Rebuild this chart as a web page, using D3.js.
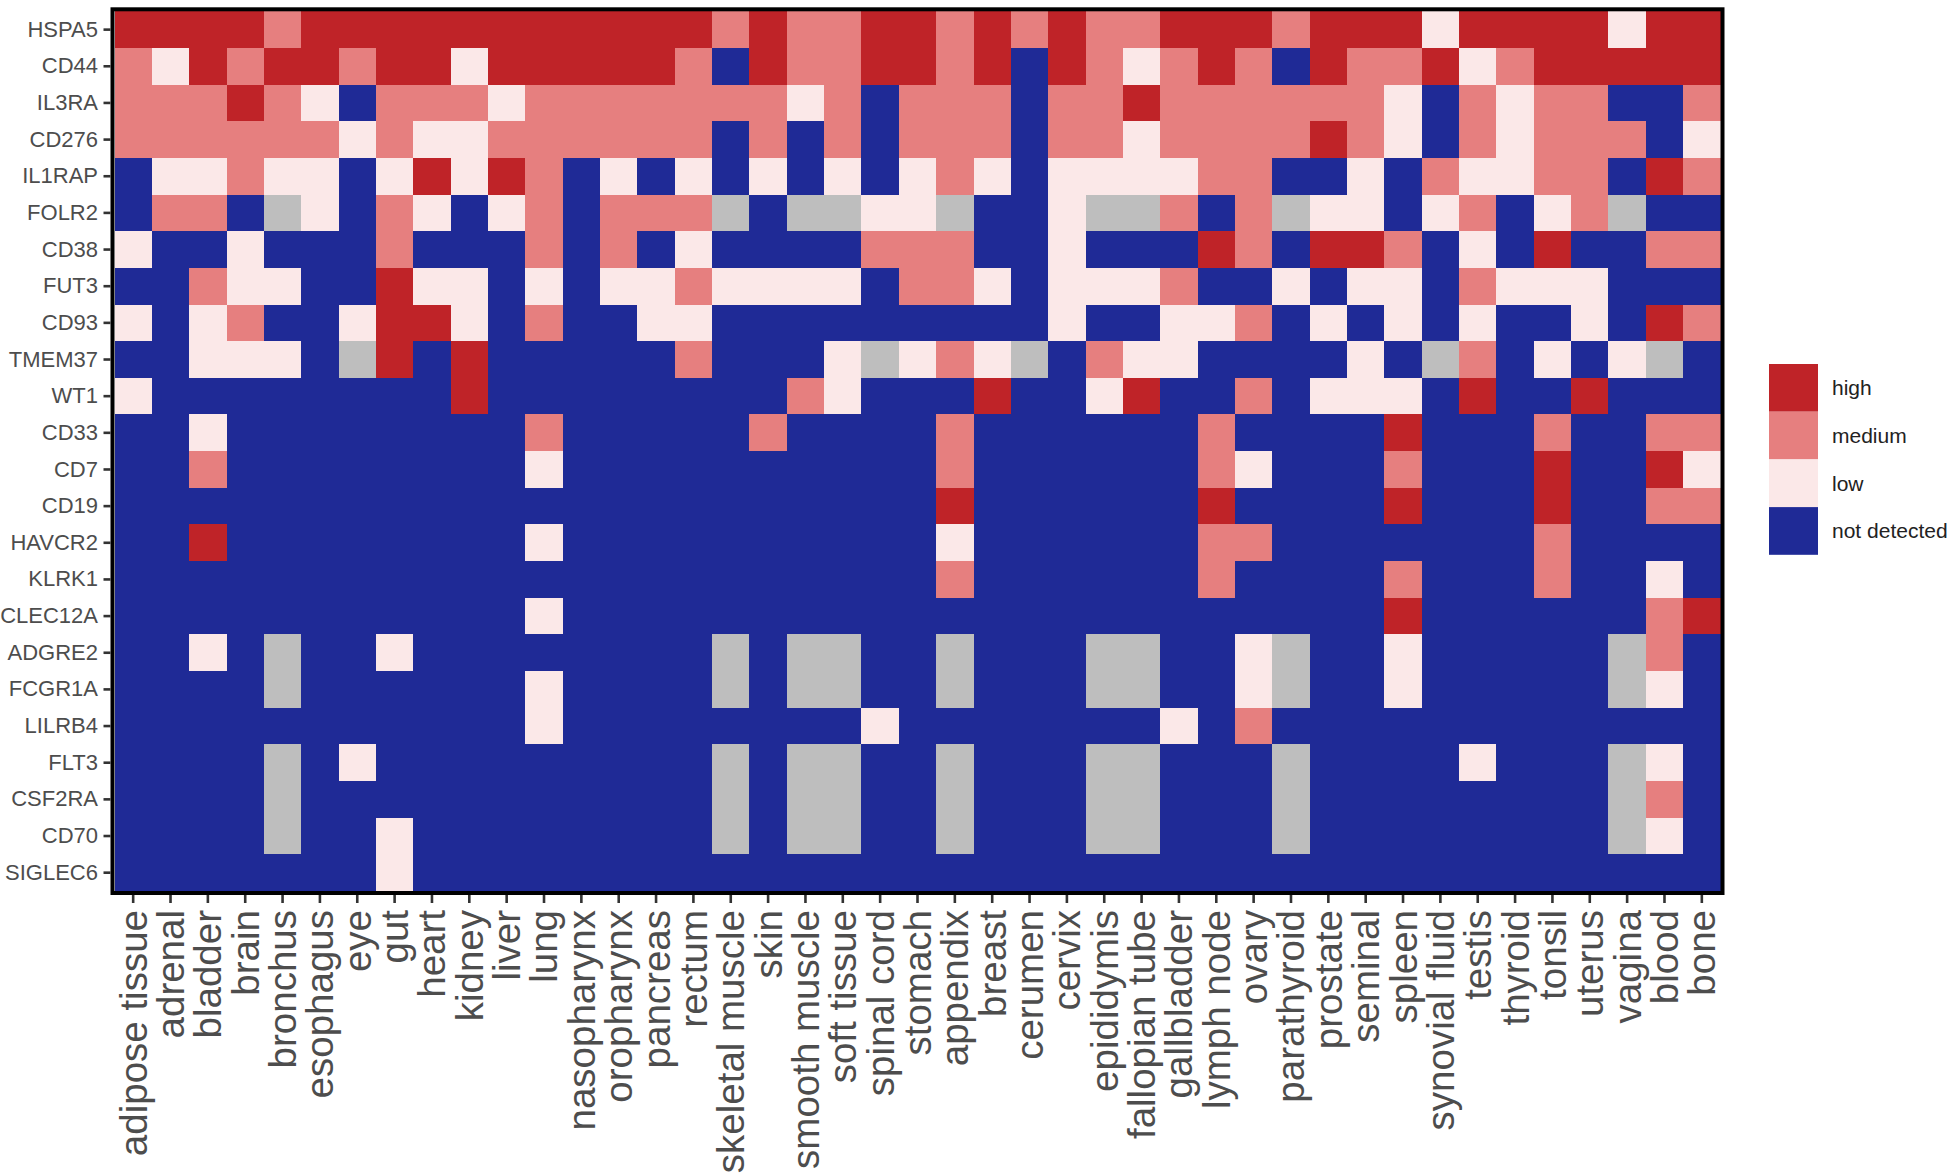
<!DOCTYPE html>
<html>
<head>
<meta charset="utf-8">
<script src="https://cdn.jsdelivr.net/npm/d3@7"></script>
<style>
  html, body { margin: 0; padding: 0; background: #ffffff; }
  svg { display: block; }
  text { font-family: "Liberation Sans", Arial, Helvetica, sans-serif; }
</style>
</head>
<body>
<svg id="chart" width="1952" height="1176"></svg>
<script>
// ---------------- data ----------------
const tissues = ["adipose tissue","adrenal","bladder","brain","bronchus","esophagus","eye","gut","heart","kidney","liver","lung","nasopharynx","oropharynx","pancreas","rectum","skeletal muscle","skin","smooth muscle","soft tissue","spinal cord","stomach","appendix","breast","cerumen","cervix","epididymis","fallopian tube","gallbladder","lymph node","ovary","parathyroid","prostate","seminal","spleen","synovial fluid","testis","thyroid","tonsil","uterus","vagina","blood","bone"];
const genes = ["HSPA5","CD44","IL3RA","CD276","IL1RAP","FOLR2","CD38","FUT3","CD93","TMEM37","WT1","CD33","CD7","CD19","HAVCR2","KLRK1","CLEC12A","ADGRE2","FCGR1A","LILRB4","FLT3","CSF2RA","CD70","SIGLEC6"];
// expression level: 3 = high, 2 = medium, 1 = low, 0 = not detected, _ = no data
const levelNames = {3: "high", 2: "medium", 1: "low", 0: "not detected"};
const legendLevels = [3, 2, 1, 0];
const _ = null;

const HSPA5   = [3,3,3,3,2, 3,3,3,3,3, 3,3,3,3,3, 3,2,3,2,2, 3,3,2,3,2, 3,2,2,3,3, 3,2,3,3,3, 1,3,3,3,3, 1,3,3];
const CD44    = [2,1,3,2,3, 3,2,3,3,1, 3,3,3,3,3, 2,0,3,2,2, 3,3,2,3,0, 3,2,1,2,3, 2,0,3,2,2, 3,1,2,3,3, 3,3,3];
const IL3RA   = [2,2,2,3,2, 1,0,2,2,2, 1,2,2,2,2, 2,2,2,1,2, 0,2,2,2,0, 2,2,3,2,2, 2,2,2,2,1, 0,2,1,2,2, 0,0,2];
const CD276   = [2,2,2,2,2, 2,1,2,1,1, 2,2,2,2,2, 2,0,2,0,2, 0,2,2,2,0, 2,2,1,2,2, 2,2,3,2,1, 0,2,1,2,2, 2,0,1];
const IL1RAP  = [0,1,1,2,1, 1,0,1,3,1, 3,2,0,1,0, 1,0,1,0,1, 0,1,2,1,0, 1,1,1,1,2, 2,0,0,1,0, 2,1,1,2,2, 0,3,2];
const FOLR2   = [0,2,2,0,_, 1,0,2,1,0, 1,2,0,2,2, 2,_,0,_,_, 1,1,_,0,0, 1,_,_,2,0, 2,_,1,1,0, 1,2,0,1,2, _,0,0];
const CD38    = [1,0,0,1,0, 0,0,2,0,0, 0,2,0,2,0, 1,0,0,0,0, 2,2,2,0,0, 1,0,0,0,3, 2,0,3,3,2, 0,1,0,3,0, 0,2,2];
const FUT3    = [0,0,2,1,1, 0,0,3,1,1, 0,1,0,1,1, 2,1,1,1,1, 0,2,2,1,0, 1,1,1,2,0, 0,1,0,1,1, 0,2,1,1,1, 0,0,0];
const CD93    = [1,0,1,2,0, 0,1,3,3,1, 0,2,0,0,1, 1,0,0,0,0, 0,0,0,0,0, 1,0,0,1,1, 2,0,1,0,1, 0,1,0,0,1, 0,3,2];
const TMEM37  = [0,0,1,1,1, 0,_,3,0,3, 0,0,0,0,0, 2,0,0,0,1, _,1,2,1,_, 0,2,1,1,0, 0,0,0,1,0, _,2,0,1,0, 1,_,0];
const WT1     = [1,0,0,0,0, 0,0,0,0,3, 0,0,0,0,0, 0,0,0,2,1, 0,0,0,3,0, 0,1,3,0,0, 2,0,1,1,1, 0,3,0,0,3, 0,0,0];
const CD33    = [0,0,1,0,0, 0,0,0,0,0, 0,2,0,0,0, 0,0,2,0,0, 0,0,2,0,0, 0,0,0,0,2, 0,0,0,0,3, 0,0,0,2,0, 0,2,2];
const CD7     = [0,0,2,0,0, 0,0,0,0,0, 0,1,0,0,0, 0,0,0,0,0, 0,0,2,0,0, 0,0,0,0,2, 1,0,0,0,2, 0,0,0,3,0, 0,3,1];
const CD19    = [0,0,0,0,0, 0,0,0,0,0, 0,0,0,0,0, 0,0,0,0,0, 0,0,3,0,0, 0,0,0,0,3, 0,0,0,0,3, 0,0,0,3,0, 0,2,2];
const HAVCR2  = [0,0,3,0,0, 0,0,0,0,0, 0,1,0,0,0, 0,0,0,0,0, 0,0,1,0,0, 0,0,0,0,2, 2,0,0,0,0, 0,0,0,2,0, 0,0,0];
const KLRK1   = [0,0,0,0,0, 0,0,0,0,0, 0,0,0,0,0, 0,0,0,0,0, 0,0,2,0,0, 0,0,0,0,2, 0,0,0,0,2, 0,0,0,2,0, 0,1,0];
const CLEC12A = [0,0,0,0,0, 0,0,0,0,0, 0,1,0,0,0, 0,0,0,0,0, 0,0,0,0,0, 0,0,0,0,0, 0,0,0,0,3, 0,0,0,0,0, 0,2,3];
const ADGRE2  = [0,0,1,0,_, 0,0,1,0,0, 0,0,0,0,0, 0,_,0,_,_, 0,0,_,0,0, 0,_,_,0,0, 1,_,0,0,1, 0,0,0,0,0, _,2,0];
const FCGR1A  = [0,0,0,0,_, 0,0,0,0,0, 0,1,0,0,0, 0,_,0,_,_, 0,0,_,0,0, 0,_,_,0,0, 1,_,0,0,1, 0,0,0,0,0, _,1,0];
const LILRB4  = [0,0,0,0,0, 0,0,0,0,0, 0,1,0,0,0, 0,0,0,0,0, 1,0,0,0,0, 0,0,0,1,0, 2,0,0,0,0, 0,0,0,0,0, 0,0,0];
const FLT3    = [0,0,0,0,_, 0,1,0,0,0, 0,0,0,0,0, 0,_,0,_,_, 0,0,_,0,0, 0,_,_,0,0, 0,_,0,0,0, 0,1,0,0,0, _,1,0];
const CSF2RA  = [0,0,0,0,_, 0,0,0,0,0, 0,0,0,0,0, 0,_,0,_,_, 0,0,_,0,0, 0,_,_,0,0, 0,_,0,0,0, 0,0,0,0,0, _,2,0];
const CD70    = [0,0,0,0,_, 0,0,1,0,0, 0,0,0,0,0, 0,_,0,_,_, 0,0,_,0,0, 0,_,_,0,0, 0,_,0,0,0, 0,0,0,0,0, _,1,0];
const SIGLEC6 = [0,0,0,0,0, 0,0,1,0,0, 0,0,0,0,0, 0,0,0,0,0, 0,0,0,0,0, 0,0,0,0,0, 0,0,0,0,0, 0,0,0,0,0, 0,0,0];

const rows = [HSPA5, CD44, IL3RA, CD276, IL1RAP, FOLR2, CD38, FUT3, CD93, TMEM37, WT1, CD33, CD7, CD19, HAVCR2, KLRK1, CLEC12A, ADGRE2, FCGR1A, LILRB4, FLT3, CSF2RA, CD70, SIGLEC6];

// ---------------- layout ----------------
const svg = d3.select("#chart");
const pLeft = 114.5, pRight = 1720.5, pTop = 11.3, pBottom = 891;

const cells = [];
genes.forEach((g, gi) => {
  tissues.forEach((t, ti) => {
    cells.push({gene: g, tissue: t, value: rows[gi][ti]});
  });
});

const x = d3.scaleBand().domain(tissues).range([pLeft, pRight]).padding(0);
const y = d3.scaleBand().domain(genes).range([pTop, pBottom]).padding(0);
const color = d3.scaleOrdinal().domain(legendLevels).range(["#BF2328", "#E67F7F", "#FBE8E8", "#1F2A96"]);
const naColor = "#BEBEBE";

svg.append("g")
  .selectAll("rect")
  .data(cells)
  .join("rect")
  .attr("x", d => x(d.tissue))
  .attr("y", d => y(d.gene))
  .attr("width", x.bandwidth() + 0.6)
  .attr("height", y.bandwidth() + 0.6)
  .attr("fill", d => d.value === null ? naColor : color(d.value))
  .attr("shape-rendering", "crispEdges");

// panel border
svg.append("rect")
  .attr("x", pLeft - 2).attr("y", pTop - 2)
  .attr("width", pRight - pLeft + 4).attr("height", pBottom - pTop + 4)
  .attr("fill", "none").attr("stroke", "#000").attr("stroke-width", 4);

// y axis
const yAxis = svg.append("g")
  .attr("transform", `translate(${pLeft - 4},0)`)
  .call(d3.axisLeft(y).tickSize(7).tickPadding(5.5));
yAxis.select(".domain").remove();
yAxis.selectAll(".tick line").attr("stroke", "#333").attr("stroke-width", 2.6);
yAxis.selectAll(".tick text")
  .attr("fill", "#4d4d4d")
  .style("font-size", "22px");

// x axis
const xAxis = svg.append("g")
  .attr("transform", `translate(0,${pBottom + 4})`)
  .call(d3.axisBottom(x).tickSize(8).tickPadding(0));
xAxis.select(".domain").remove();
xAxis.selectAll(".tick line").attr("stroke", "#333").attr("stroke-width", 2.6);
xAxis.selectAll(".tick text")
  .attr("fill", "#4d4d4d")
  .style("font-size", "38.5px")
  .attr("text-anchor", "end")
  .attr("dy", "0.35em")
  .attr("transform", "translate(0,15) rotate(-90)")
  .attr("x", 0)
  .attr("y", 0);

// legend
const legend = svg.append("g").attr("transform", "translate(1769,364)");
const keyH = 47.7, keyW = 49;
const keys = legend.selectAll("g").data(legendLevels).join("g")
  .attr("transform", (d, i) => `translate(0,${i * keyH})`);
keys.append("rect")
  .attr("width", keyW).attr("height", keyH)
  .attr("fill", d => color(d));
keys.append("text")
  .attr("x", keyW + 14)
  .attr("y", keyH / 2)
  .attr("dy", "0.35em")
  .attr("fill", "#222")
  .style("font-size", "21px")
  .text(d => levelNames[d]);
</script>
</body>
</html>
